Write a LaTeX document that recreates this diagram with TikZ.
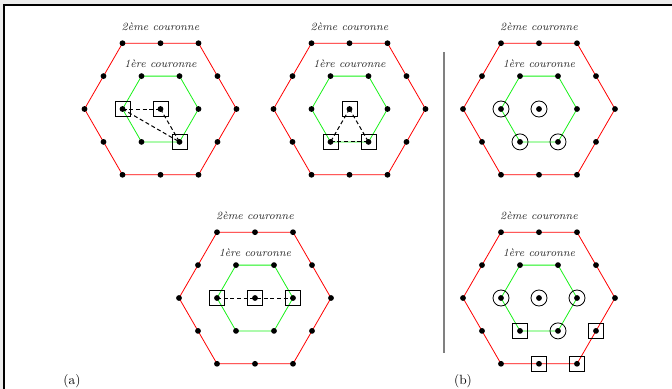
\documentclass[tikz,border=0pt]{standalone}
\usepackage{xcolor}
\usetikzlibrary{positioning}

\definecolor{vertc}{rgb}{0.1,0.95,0.1}
\tikzstyle{couronne-ext} = [draw=red, line width=0.6pt]
\tikzstyle{couronne-int} = [draw=vertc, line width=0.6pt]
\tikzstyle{titre-couronne} = [font=\fontsize{8.3}{10}\selectfont\itshape, text=black!85, inner sep=0pt]
\tikzstyle{carre} = [draw, rectangle, minimum size=11.3pt, inner sep=0pt, line width=0.6pt]
\tikzstyle{rond} = [draw, circle, minimum size=12pt, inner sep=0pt, line width=0.6pt]
\tikzstyle{lien} = [dash pattern=on 3pt off 2pt, line width=0.75pt]

% deux couronnes hexagonales autour d'un site central
\newcommand{\couronnes}[2]{%
  \begin{scope}[shift={#2}]
    \coordinate (#1-c) at (0,0);
    \foreach \k/\px/\py in {1/-38/0, 2/-19/-32.9, 3/19/-32.9,
                            4/38/0, 5/19/32.9, 6/-19/32.9}
      \coordinate (#1-i\k) at (\px,\py);
    \foreach \k/\px/\py in {1/-76/0, 2/-57/-32.9, 3/-38/-65.8, 4/0/-65.8,
                            5/38/-65.8, 6/57/-32.9, 7/76/0, 8/57/32.9,
                            9/38/65.8, 10/0/65.8, 11/-38/65.8, 12/-57/32.9}
      \coordinate (#1-o\k) at (\px,\py);
    \draw[couronne-ext] (#1-o1) \foreach \k in {2,...,12}{ -- (#1-o\k)} -- cycle;
    \draw[couronne-int] (#1-i1) \foreach \k in {2,...,6}{ -- (#1-i\k)} -- cycle;
    \fill (#1-c) circle (2.9);
    \foreach \k in {1,...,6} \fill (#1-i\k) circle (2.9);
    \foreach \k in {1,...,12} \fill (#1-o\k) circle (2.9);
    \node[titre-couronne] (#1-t2) at (0,-82.3) {2ème couronne};
    \node[titre-couronne] (#1-t1) at (0,-45.7) {1ère couronne};
  \end{scope}}

\begin{document}
\begin{tikzpicture}[x=0.75pt,y=-0.75pt]
\useasboundingbox (0,0) rectangle (672,389);
\fill[gray!15] (0,0) rectangle (672,389);
\fill[white] (4,5) rectangle (672,389);
\draw[line width=0.8pt] (4,389) -- (4,5) -- (672,5);

\couronnes{ha}{(160.5,109)}
\couronnes{hb}{(349.5,109)}
\couronnes{hc}{(255,298)}
\couronnes{hd}{(539,109)}
\couronnes{he}{(539,298)}

% (a)
\node[carre] (ba1) at (ha-i1) {};
\node[carre] (ba2) at (ha-c) {};
\node[carre] (ba3) at (ha-i5) {};
\draw[lien] (ha-i1) -- (ha-c);
\draw[lien] (ha-i1) -- (ha-i5);
\draw[lien] (ha-c) -- (ha-i5);

\node[carre] (bb1) at (hb-c) {};
\node[carre] (bb2) at (hb-i6) {};
\node[carre] (bb3) at (hb-i5) {};
\draw[lien] (hb-c) -- (hb-i6);
\draw[lien] (hb-c) -- (hb-i5);
\draw[lien] (hb-i6) -- (hb-i5);

\node[carre] (bc1) at (hc-i1) {};
\node[carre] (bc2) at (hc-c) {};
\node[carre] (bc3) at (hc-i4) {};
\draw[lien] (hc-i1) -- (hc-c) -- (hc-i4);

% (b)
\foreach \p in {i1,c,i6,i5} \node[rond] at (hd-\p) {};
\foreach \p in {i1,c,i4,i5} \node[rond] at (he-\p) {};
\foreach \p in {i6,o8,o10,o9} \node[carre] at (he-\p) {};

\coordinate (sep-haut) at (444,52);
\coordinate (sep-bas) at (444,353);
\draw[gray, line width=1pt] (sep-haut) -- (sep-bas);

\node (lbl-a) at (72,381) {(a)};
\node (lbl-b) at (463,381) {(b)};
\end{tikzpicture}
\end{document}
